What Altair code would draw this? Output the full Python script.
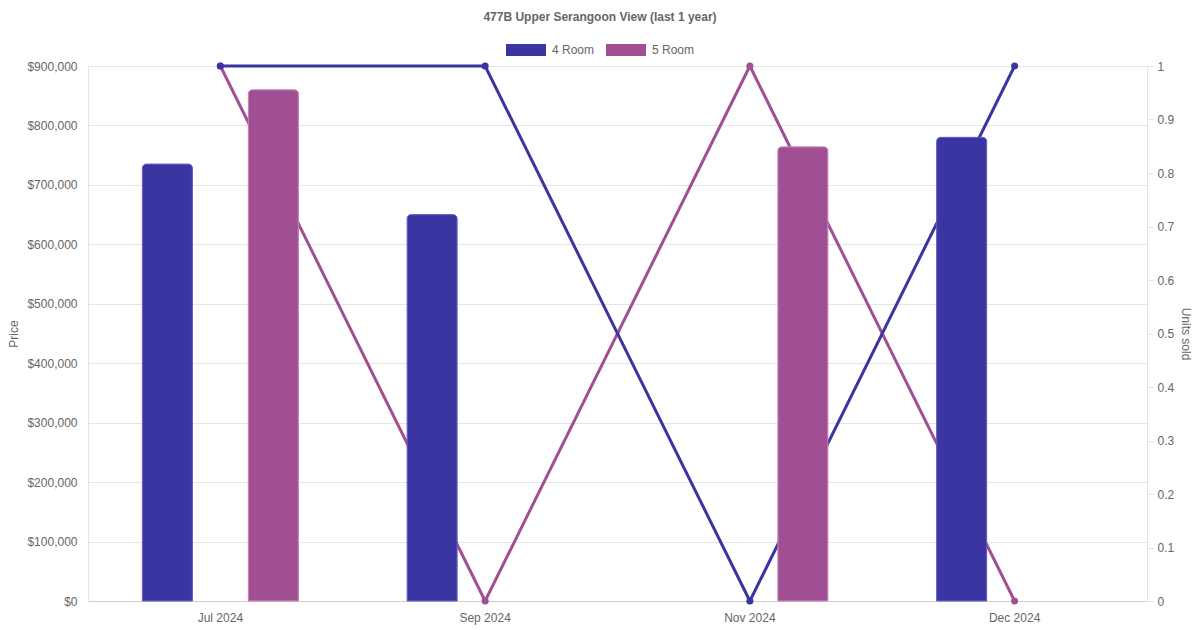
import altair as alt
import pandas as pd

# ---- data ----
months = ["Jul 2024", "Sep 2024", "Nov 2024", "Dec 2024"]
series = ["4 Room", "5 Room"]
price_4room = [735000, 650000, None, 780000]
price_5room = [860000, None, 764000, None]
units_4room = [1, 1, 0, 1]
units_5room = [1, 0, 1, 0]
price_ticks = [0, 100000, 200000, 300000, 400000, 500000, 600000, 700000, 800000, 900000]
units_ticks = [0, 0.1, 0.2, 0.3, 0.4, 0.5, 0.6, 0.7, 0.8, 0.9, 1]

colors = ["#3a35a0", "#a05092"]
border_colors = ["#5e59c8", "#c27cb6"]
FONT = "Liberation Sans"
GREY = "#666666"
GRID = "#e5e5e5"

rows = []
for i, m in enumerate(months):
    rows.append({"month": m, "series": "4 Room", "price": price_4room[i], "units": units_4room[i]})
    rows.append({"month": m, "series": "5 Room", "price": price_5room[i], "units": units_5room[i]})
df = pd.DataFrame(rows)
# lines: draw 5 Room first so the 4 Room line and points sit on top
df_lines = pd.concat([df[df["series"] == "5 Room"], df[df["series"] == "4 Room"]], ignore_index=True)

x_enc = alt.X(
    "month:N",
    sort=months,
    scale=alt.Scale(paddingInner=0, paddingOuter=0),
    axis=alt.Axis(
        title=None, labelAngle=0, ticks=False, labelPadding=11, grid=False,
        domainColor="#cfcfcf", labelFontSize=12, labelColor=GREY, labelFont=FONT,
    ),
)

color_scale = alt.Scale(domain=series, range=colors)
legend = alt.Legend(
    orient="none", legendX=418, legendY=-36, direction="horizontal",
    title=None, symbolType="M-1,-0.3H1V0.3H-1Z", symbolSize=1600,
    symbolStrokeWidth=0, symbolOpacity=1, labelFontSize=12,
    labelColor=GREY, labelFont=FONT, labelOffset=6, columnPadding=11,
    padding=0,
)

lines = alt.Chart(df_lines).mark_line(
    strokeWidth=3, point=alt.OverlayMarkDef(filled=True, size=50)
).encode(
    x=x_enc,
    y=alt.Y(
        "units:Q",
        scale=alt.Scale(domain=[0, 1], nice=False, zero=True),
        axis=alt.Axis(
            orient="right", title="Units sold", values=units_ticks, format="~g",
            grid=False, tickSize=6, tickColor=GRID, domainColor=GRID,
            labelPadding=4, labelFontSize=12, labelColor=GREY, labelFont=FONT,
            titleX=38, titleY=267.5, titleAngle=90, titleBaseline="middle",
            titleAlign="center", titleFontSize=12, titleFontWeight="normal",
            titleColor=GREY, titleFont=FONT,
        ),
    ),
    color=alt.Color("series:N", scale=color_scale, legend=legend),
)

bars = alt.Chart(df).transform_filter("isValid(datum.price)").mark_bar(
    cornerRadiusTopLeft=4, cornerRadiusTopRight=4, strokeWidth=1
).encode(
    x=x_enc,
    xOffset=alt.XOffset("series:N", sort=series,
                        scale=alt.Scale(domain=series, paddingInner=0.528, paddingOuter=0.513)),
    y=alt.Y(
        "price:Q",
        scale=alt.Scale(domain=[0, 900000], nice=False),
        axis=alt.Axis(
            orient="left", title="Price", values=price_ticks, format="$,.0f",
            grid=True, gridColor=GRID, ticks=False, labelPadding=11,
            domainColor=GRID, labelFontSize=12, labelColor=GREY, labelFont=FONT,
            titleX=-75, titleY=267.5, titleAngle=-90, titleBaseline="middle",
            titleAlign="center", titleFontSize=12, titleFontWeight="normal",
            titleColor=GREY, titleFont=FONT,
        ),
    ),
    color=alt.Color("series:N", scale=color_scale, legend=legend),
    stroke=alt.Stroke("series:N", scale=alt.Scale(domain=series, range=border_colors), legend=None),
)

chart = alt.layer(lines, bars).resolve_scale(
    y="independent", stroke="independent"
).properties(
    width=1059,
    height=535,
    autosize=alt.AutoSizeParams(type="none"),
    padding={"left": 80, "top": 58, "right": 45, "bottom": 29},
    title=alt.TitleParams(
        text="477B Upper Serangoon View (last 1 year)",
        fontSize=12, fontWeight="bold", color=GREY, font=FONT,
        anchor="middle", frame="group", dx=-17.5, offset=6,
    ),
).configure_view(stroke=None).configure(font=FONT, background="white")

chart.save("out.html", embed_options={"renderer": "svg", "actions": False})
